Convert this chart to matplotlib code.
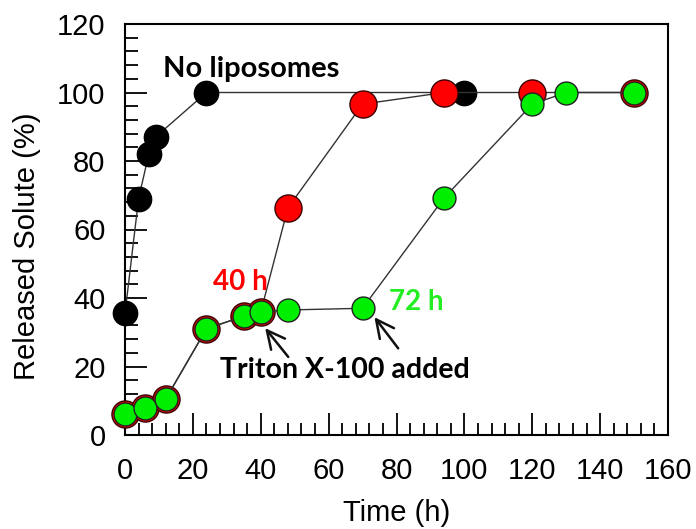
import numpy as np
import matplotlib
matplotlib.use('Agg')
import matplotlib.pyplot as plt
from matplotlib.ticker import MultipleLocator

# data
t_none = [0, 4, 7, 9, 24, 100]
rel_none = [35.5, 69, 82, 87, 100, 100]

t_40h = [0, 6, 12, 24, 35, 40, 48, 70, 94, 120, 150]
rel_40h = [6, 8, 10.5, 31, 34.7, 35.9, 66.3, 96.6, 100, 100, 100]

t_72h = [0, 6, 12, 24, 35, 40, 48, 70, 94, 120, 130, 150]
rel_72h = [6, 8, 10.5, 31, 34.7, 35.9, 36.5, 37, 69.2, 96.6, 100, 100]

x_ticks = [0, 20, 40, 60, 80, 100, 120, 140, 160]
y_ticks = [0, 20, 40, 60, 80, 100, 120]

plt.rcParams['font.family'] = ['Liberation Sans', 'DejaVu Sans']

fig = plt.figure(figsize=(6.96, 5.29), dpi=100)
ax = fig.add_axes([125/696, 1 - 435/529, (668 - 125)/696, (435 - 24)/529])

line_kw = dict(color='#333333', lw=1.0)
ax.plot(t_none, rel_none, marker='o', ms=17.5, mfc='black', mec='black', zorder=2, **line_kw)
ax.plot(t_40h, rel_40h, marker='o', ms=19.5, mfc='#ff0000', mec='#3a0000', mew=1.0, zorder=3, **line_kw)
ax.plot(t_72h, rel_72h, marker='o', ms=16.5, mfc='#00ee00', mec='#222222', mew=1.0, zorder=4, **line_kw)

ax.set_xlim(0, 160)
ax.set_ylim(0, 120)
ax.set_xticks(x_ticks)
ax.set_yticks(y_ticks)
ax.xaxis.set_minor_locator(MultipleLocator(4))
ax.yaxis.set_minor_locator(MultipleLocator(4))
ax.tick_params(which='major', direction='in', length=16, width=1.3, labelsize=21, pad=16)
ax.tick_params(which='minor', direction='in', length=9, width=1.3)
ax.tick_params(axis='y', which='both', pad=14)
for sp in ax.spines.values():
    sp.set_linewidth(1.5)

ax.set_xlabel('Time (h)', fontsize=21, labelpad=10)
ax.set_ylabel('Released Solute (%)', fontsize=21)
ax.yaxis.set_label_coords(-0.155, 0.46)

ann_font = ['Lato', 'DejaVu Sans']
ax.text(37.2, 107, 'No liposomes', fontsize=21, fontweight='bold', family=ann_font,
        ha='center', va='center', color='black')
ax.text(33.9, 44.7, '40 h', fontsize=20, fontweight='bold', family=ann_font,
        ha='center', va='center', color='#ff0000')
ax.text(85.7, 38.8, '72 h', fontsize=20, fontweight='bold', family=ann_font,
        ha='center', va='center', color='#22ee22')
ax.text(64.7, 19, 'Triton X-100 added', fontsize=20.5, fontweight='bold', family=ann_font,
        ha='center', va='center', color='black', zorder=6)

arrow_kw = dict(arrowstyle='->', color='#111111', lw=1.8, mutation_scale=32,
                shrinkA=0, shrinkB=0)
ax.annotate('', xy=(41.3, 31.2), xytext=(48.1, 22.8), arrowprops=arrow_kw, zorder=6)
ax.annotate('', xy=(73.5, 34.4), xytext=(80.5, 25.3), arrowprops=arrow_kw, zorder=6)

for ln in ax.lines:
    ln.set_clip_on(False)

fig.savefig('out.png', dpi=100)
